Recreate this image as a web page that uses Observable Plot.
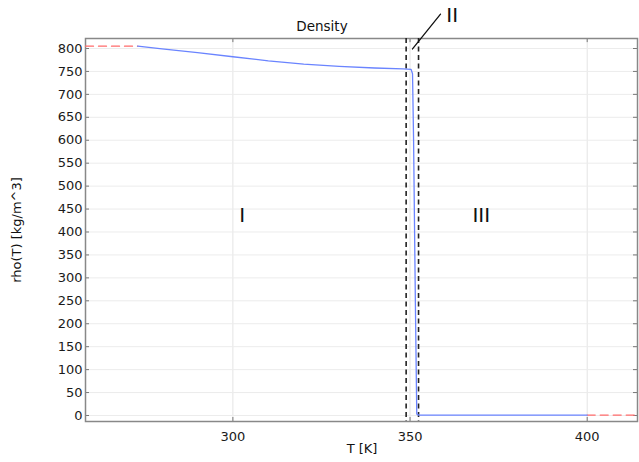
<!DOCTYPE html>
<html><head><meta charset="utf-8">
<script src="https://cdn.jsdelivr.net/npm/d3@7"></script>
<script src="https://cdn.jsdelivr.net/npm/@observablehq/plot@0.6"></script>
<style>
body{margin:0;background:#fff;}
svg{font-family:"DejaVu Sans",sans-serif;}
</style></head>
<body><div id="chart"></div>
<script>
// Density curve (solid blue)
const T_vals = [273.15, 280, 290, 300, 310, 320, 330, 340, 348, 350.3, 350.7, 351.0, 351.5, 351.9, 352.5, 360, 380, 400];
const rho_vals = [805, 799, 791, 782, 773, 766, 761, 757.5, 755.5, 754.5, 745, 600, 250, 3, 1, 1, 1, 1];
// Extrapolation segments (red dashed)
const extrapLeftT = [258.4, 273.15];
const extrapLeftRho = [805, 805];
const extrapRightT = [400, 414.2];
const extrapRightRho = [1, 1];
// Phase boundaries (black dashed)
const boundaries = [348.9, 352.4];
// Region labels
const regionNames = ["I", "III", "II"];
const regionT = [302.6, 370.1, 361.9];
const regionRho = [436, 436, 871];
// Leader line for "II"
const leaderT = [350.7, 358.6];
const leaderRho = [799, 875];
// Ticks
const xTicks = [300, 350, 400];
const yTicks = d3.range(0, 801, 50);

const curve = T_vals.map((t, i) => ({T: t, rho: rho_vals[i]}));
const left = extrapLeftT.map((t, i) => ({T: t, rho: extrapLeftRho[i]}));
const right = extrapRightT.map((t, i) => ({T: t, rho: extrapRightRho[i]}));
const labels = regionNames.map((n, i) => ({n, T: regionT[i], rho: regionRho[i]}));
const leader = leaderT.map((t, i) => ({T: t, rho: leaderRho[i]}));

const xDom = [258.4, 414.2], yDom = [-13.1, 821.8];
const W = 639, H = 462;
const chart = Plot.plot({
  width: W, height: H,
  marginLeft: 85, marginRight: 2, marginTop: 38, marginBottom: 41,
  style: {fontFamily: "DejaVu Sans, sans-serif", fontSize: "13px", color: "#1a1a1a", overflow: "visible"},
  x: {domain: xDom},
  y: {domain: yDom},
  marks: [
    Plot.gridX(xTicks, {stroke: "#e4e4e4", strokeOpacity: 1}),
    Plot.gridY(yTicks, {stroke: "#ececec", strokeOpacity: 1}),
    Plot.axisX(xTicks, {anchor: "bottom", tickSize: -4, tickPadding: 14, stroke: "#777", fill: "#1a1a1a", label: null, fontSize: 13}),
    Plot.axisY(yTicks, {anchor: "left", tickSize: -4, tickPadding: 7, stroke: "#777", fill: "#1a1a1a", label: null, fontSize: 13}),
    Plot.ruleX(xTicks, {x: d => d, y1: yDom[1], y2: yDom[1] - 9, stroke: "#777"}),
    Plot.ruleY(yTicks, {y: d => d, x1: xDom[1], x2: xDom[1] - 1.13, stroke: "#777"}),
    Plot.frame({stroke: "#888", strokeWidth: 1.5}),
    Plot.ruleX(boundaries, {stroke: "#222", strokeWidth: 1.6, strokeDasharray: "5,3.5"}),
    Plot.line(left, {x: "T", y: "rho", stroke: "#ff6b6b", strokeWidth: 1.3, strokeDasharray: "8,5"}),
    Plot.line(right, {x: "T", y: "rho", stroke: "#ff6b6b", strokeWidth: 1.3, strokeDasharray: "8,5"}),
    Plot.line(curve, {x: "T", y: "rho", stroke: "#6a84ff", strokeWidth: 1.3}),
    Plot.line(leader, {x: "T", y: "rho", stroke: "#111", strokeWidth: 1.3, clip: false}),
    Plot.text(labels, {x: "T", y: "rho", text: "n", fontSize: 20, fill: "#111", clip: false})
  ]
});
const svg = d3.select(chart);
svg.append("text").attr("x", 322).attr("y", 31).attr("text-anchor", "middle")
  .attr("font-size", 13.5).attr("fill", "#111").text("Density");
svg.append("text").attr("transform", "translate(21,230) rotate(-90)").attr("text-anchor", "middle")
  .attr("font-size", 13).attr("fill", "#111").text("rho(T) [kg/m^3]");
svg.append("text").attr("x", 362).attr("y", 453).attr("text-anchor", "middle")
  .attr("font-size", 13).attr("fill", "#111").text("T [K]");
document.getElementById("chart").appendChild(chart);
</script></body></html>
